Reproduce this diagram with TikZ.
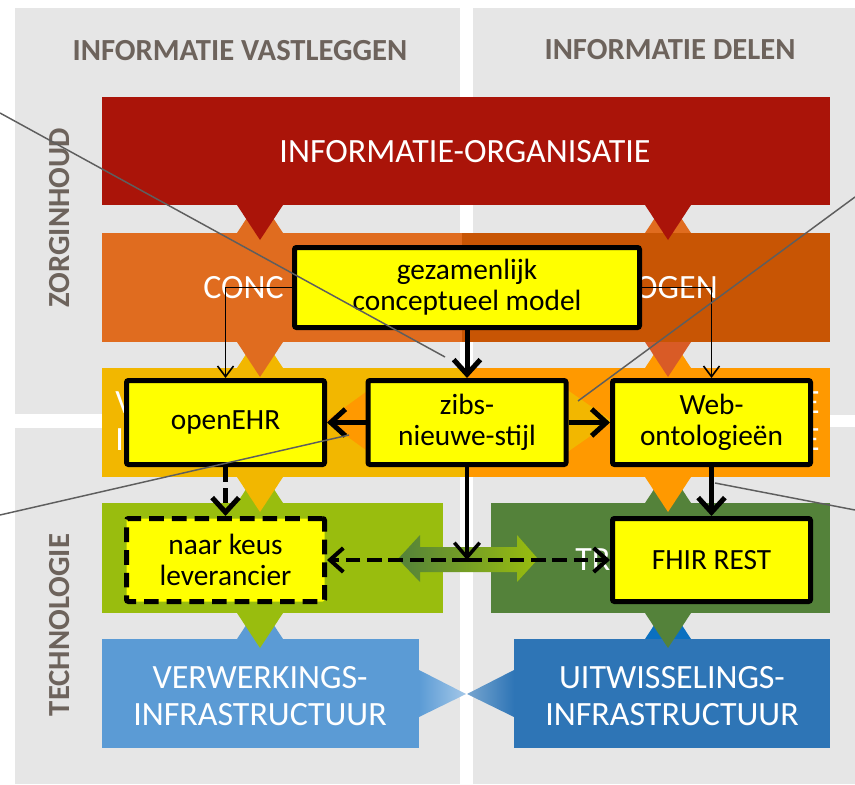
\documentclass[tikz,border=0pt]{standalone}
\usepackage{fontspec}
\setmainfont{Carlito}
\usetikzlibrary{arrows.meta}
\definecolor{quadgray}{HTML}{E6E6E6}
\definecolor{labelgray}{HTML}{6D635C}
\definecolor{orgred}{HTML}{AA1409}
\definecolor{conclight}{HTML}{E06C1F}
\definecolor{concdark}{HTML}{C85504}
\definecolor{concnotch}{HTML}{D95B26}
\definecolor{infogold}{HTML}{F2B700}
\definecolor{infoorange}{HTML}{FF9900}
\definecolor{techlime}{HTML}{99BD0E}
\definecolor{techgreen}{HTML}{54823A}
\definecolor{infralight}{HTML}{5B9BD5}
\definecolor{infradark}{HTML}{2E75B6}
\definecolor{infranotch}{HTML}{0B70C0}
\definecolor{boxyellow}{HTML}{FFFF00}
\definecolor{calloutgray}{HTML}{5E5E5E}
\def\notchdown[#1](#2,#3){\fill[#1] ({#2-23},#3) -- ({#2+23},#3) -- (#2,{#3+35}) -- cycle;}
\def\notchup[#1](#2,#3){\fill[#1] ({#2-23},#3) -- ({#2+23},#3) -- (#2,{#3-35}) -- cycle;}
\tikzset{
  band/.style={text=white, font=\fontsize{25.5}{28}\selectfont, align=center, inner sep=0pt},
  header/.style={text=labelgray, font=\fontsize{23}{26}\selectfont\bfseries, inner sep=0pt},
  stdbox/.style={draw=black, fill=boxyellow, line width=3.75pt, rounded corners=1.5pt,
    minimum width=148.5pt, minimum height=63pt, align=center,
    font=\fontsize{22}{23}\selectfont, inner sep=2pt},
  thickarrow/.style={line width=3.75pt, -{Straight Barb[length=11pt,width=20pt]}},
  midarrow/.style={line width=2.6pt, -{Straight Barb[length=11pt,width=19pt]}},
  thinarrow/.style={line width=1.2pt, -{Straight Barb[length=8pt,width=12pt]}},
  dasharrow/.style={line width=3pt, dash pattern=on 11pt off 5pt, -{Straight Barb[length=10pt,width=18pt]}},
  callout/.style={draw=calloutgray, line width=1.1pt}
}
\begin{document}
\begin{tikzpicture}[x=0.75pt,y=-0.75pt]
  \useasboundingbox (0,0) rectangle (855,784);
  %%%%% quadrants %%%%%
  \fill[quadgray] (15,8) rectangle (460,414);
  \fill[quadgray] (15,428) rectangle (460,784);
  \fill[quadgray] (473,8) rectangle (855,415);
  \fill[quadgray] (473,427) rectangle (855,784);

  \node[header] (vastleggen) at (240,51) {INFORMATIE VASTLEGGEN};
  \node[header] (delen) at (670,50) {INFORMATIE DELEN};
  \node[header, rotate=90] (zorginhoud) at (60,218) {ZORGINHOUD};
  \node[header, rotate=90] (technologie) at (60,625) {TECHNOLOGIE};

  %%%%% layers %%%%%
  \notchup[conclight](260,233) \notchup[conclight](668,233)
  \notchup[infogold](260,368) \notchup[infoorange](668,368)
  \notchup[techlime](260,503) \notchup[techgreen](668,503)
  \notchup[infralight](260,639) \notchup[infranotch](668,639)

  \fill[orgred] (102,97) rectangle (830,205);
  \fill[conclight] (102,233) rectangle (462,342);
  \fill[concdark] (462,233) rectangle (830,342);
  \fill[infogold] (102,368) rectangle (466,477);
  \fill[infoorange] (466,368) rectangle (830,477);
  \fill[techlime] (102,503) rectangle (443,613);
  \fill[techgreen] (491,503) rectangle (830,613);
  \fill[infralight] (102,639) rectangle (419,748);
  \fill[infradark] (514,639) rectangle (830,748);

  \fill[infoorange] (326,421) -- (370,389) -- (370,453) -- cycle;
  \fill[infogold] (612,421) -- (566,389) -- (566,453) -- cycle;

  \notchdown[orgred](260,205) \notchdown[orgred](668,205)
  \notchdown[conclight](260,342) \notchdown[concnotch](668,342)
  \notchdown[infogold](260,477) \notchdown[infoorange](668,477)
  \notchdown[techlime](260,613) \notchdown[techgreen](668,613)

  \shade[left color=infralight, right color=infralight!55!white] (419,670) -- (466,694) -- (419,717) -- cycle;
  \shade[left color=infradark!65!white, right color=infradark] (514,670) -- (467,694) -- (514,717) -- cycle;

  \node[band] (organisatie) at (465,152) {INFORMATIE-ORGANISATIE};
  \node[band, anchor=west] (concepten) at (203,288) {CONC};
  \node[band, anchor=east] (ontologen) at (718,288) {OGEN};
  \node[band, anchor=west, align=left] (infoleft) at (115,421) {V\\I};
  \node[band, anchor=east, align=right] (inforight) at (820,421) {E\\E};
  \node[band, anchor=west] (transport) at (575,560) {TR};
  \node[band] (verwerking) at (260,696) {VERWERKINGS-\\INFRASTRUCTUUR};
  \node[band] (uitwisseling) at (672,696) {UITWISSELINGS-\\INFRASTRUCTUUR};

  \shade[left color=techgreen, right color=techlime] (398,559) -- (420,535) -- (420,547) -- (517,547)
    -- (517,535) -- (538,559) -- (517,582) -- (517,572) -- (420,572) -- (420,582) -- cycle;

  %%%%% standards %%%%%
  \node[stdbox, minimum width=258.75pt, minimum height=60pt] (gcm) at (467,287.5) {gezamenlijk\\conceptueel model};
  \node[stdbox] (openehr) at (225.5,422.5) {openEHR};
  \node[stdbox] (zibs) at (467,422.5) {zibs-\\nieuwe-stijl};
  \node[stdbox] (webont) at (711.5,422.5) {Web-\\ontologieën};
  \node[stdbox, minimum height=62.25pt, dash pattern=on 11pt off 6pt] (leverancier) at (225.5,560) {naar keus\\leverancier};
  \node[stdbox, minimum height=62.25pt] (fhir) at (711.5,560) {FHIR REST};

  \draw[thickarrow] (gcm) -- (zibs);
  \draw[thinarrow] (gcm.west) -| (openehr.north);
  \draw[thinarrow] (gcm.east) -| (webont.north);
  \draw[thickarrow] (zibs) -- (openehr);
  \draw[thickarrow] (zibs) -- (webont);
  \draw[thickarrow, dash pattern=on 11pt off 5pt] (openehr) -- (leverancier);
  \draw[thickarrow] (webont) -- (fhir);
  \coordinate (split) at (zibs.south |- leverancier.east);
  \draw[midarrow] (zibs) -- (split);
  \draw[dasharrow] (split) -- (leverancier);
  \draw[dasharrow] (split) -- (fhir);

  %%%%% callout lines %%%%%
  \coordinate (toplefta) at (0,113);
  \coordinate (topleftb) at (445,357);
  \coordinate (toprighta) at (855,197);
  \coordinate (toprightb) at (578,401);
  \coordinate (lowlefta) at (0,515);
  \coordinate (lowleftb) at (349,435);
  \coordinate (lowrighta) at (715,483);
  \coordinate (lowrightb) at (855,510);
  \draw[callout] (toplefta) -- (topleftb);
  \draw[callout] (toprighta) -- (toprightb);
  \draw[callout] (lowlefta) -- (lowleftb);
  \draw[callout] (lowrighta) -- (lowrightb);
\end{tikzpicture}
\end{document}
